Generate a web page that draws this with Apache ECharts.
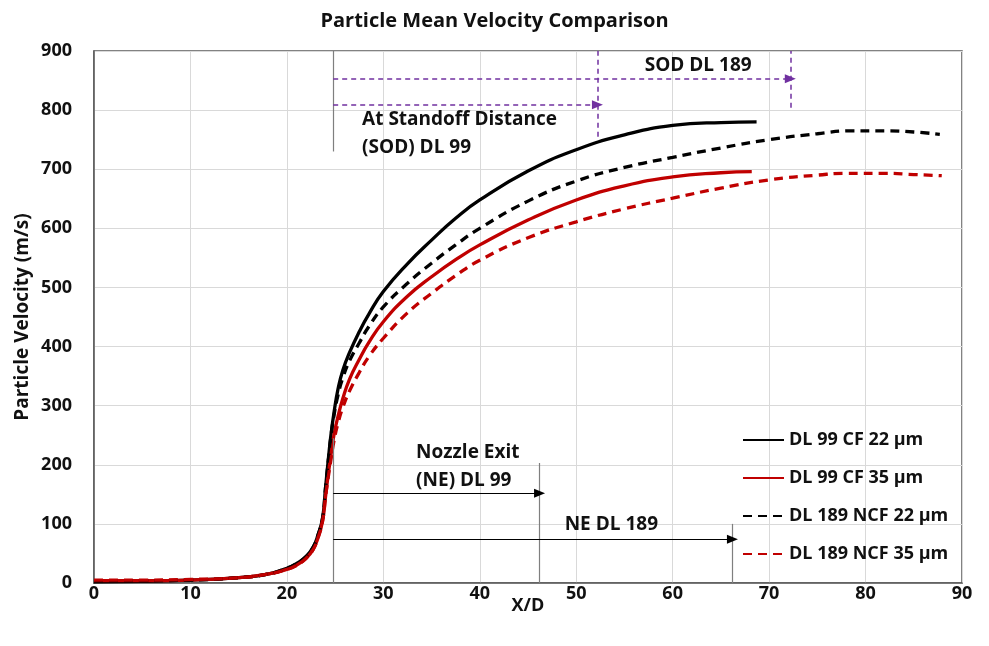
<!DOCTYPE html>
<html>
<head>
<meta charset="utf-8">
<script src="https://cdn.jsdelivr.net/npm/echarts@6/dist/echarts.min.js"></script>
<style>html,body{margin:0;padding:0;background:#fff;}#c{width:989px;height:646px;}</style>
</head>
<body>
<div id="c"></div>
<script>
// ---- Data ----
const titleText = 'Particle Mean Velocity Comparison';
const xTicks = [0, 10, 20, 30, 40, 50, 60, 70, 80, 90];
const yTicks = [0, 100, 200, 300, 400, 500, 600, 700, 800, 900];
const seriesNames = ['DL 99 CF 22 µm', 'DL 99 CF 35 µm', 'DL 189 NCF 22 µm', 'DL 189 NCF 35 µm'];

const xCF22 = [0, 5, 10, 15, 18, 20, 21, 22, 22.7, 23.2, 23.7, 24.0, 24.3, 24.6, 24.9, 25.3, 25.8, 26.5, 27.5, 28.5, 30, 32.5, 35, 37.5, 40, 45, 50, 55, 60, 65, 68.7];
const yCF22 = [2, 3, 5, 9, 15, 25, 33, 45, 60, 80, 110, 160, 210, 255, 290, 328, 360, 390, 425, 455, 493, 540, 580, 617, 648, 697, 733, 758, 774, 779, 780];

const xCF35 = [0, 5, 10, 15, 18, 20, 21, 22, 22.7, 23.2, 23.7, 24.0, 24.3, 24.6, 24.9, 25.3, 25.8, 26.5, 27.5, 28.5, 30, 32.5, 35, 37.5, 40, 45, 50, 55, 60, 65, 68.2];
const yCF35 = [4, 4, 5, 9, 15, 23, 30, 42, 56, 75, 105, 145, 185, 220, 252, 282, 312, 345, 378, 407, 442, 485, 518, 547, 572, 614, 648, 672, 687, 694, 696];

const xNCF22 = [0, 5, 10, 15, 18, 20, 21, 22, 22.7, 23.2, 23.7, 24.0, 24.3, 24.6, 24.9, 25.3, 25.8, 26.5, 27.5, 28.5, 30, 32.5, 35, 37.5, 40, 45, 50, 55, 60, 65, 70, 75, 78.7, 82, 85, 87.7];
const yNCF22 = [4, 4, 5, 9, 15, 25, 33, 45, 60, 80, 110, 160, 208, 252, 285, 318, 347, 376, 406, 434, 467, 507, 541, 572, 600, 646, 680, 703, 720, 736, 750, 760, 765, 765, 763, 759];

const xNCF35 = [0, 5, 10, 15, 18, 20, 21, 22, 22.7, 23.2, 23.7, 24.0, 24.3, 24.6, 24.9, 25.3, 25.8, 26.5, 27.5, 28.5, 30, 32.5, 35, 37.5, 40, 45, 50, 55, 60, 65, 70, 75, 78, 82, 85, 87.9];
const yNCF35 = [5, 5, 6, 9, 15, 23, 30, 42, 56, 75, 105, 145, 180, 212, 242, 270, 297, 325, 356, 383, 414, 457, 490, 520, 546, 584, 611, 633, 651, 668, 682, 690, 693, 693, 691, 689];

// annotation geometry in data units
const greyLines = [[[24.8, 730], [24.8, 900]], [[24.8, 0], [24.8, 245]], [[46.2, 0], [46.2, 203]], [[66.2, 0], [66.2, 100]]];
const blackArrows = [[[24.8, 152], [46.2, 152]], [[24.8, 74], [66.2, 74]]];
const purpleArrows = [[[24.8, 809], [52.2, 809]], [[24.8, 853], [72.2, 853]]];
const purpleLines = [[[52.2, 755], [52.2, 900]], [[72.2, 804], [72.2, 900]]];
const notes = [
  [57.1, 876, 'SOD DL 189'],
  [27.8, 760, 'At Standoff Distance\n(SOD) DL 99'],
  [33.4, 197, 'Nozzle Exit\n(NE) DL 99'],
  [48.8, 98, 'NE DL 189']
];

const FONT = 'Open Sans';
const TXT = '#111111';
const pairs = (xs, ys) => xs.map((x, i) => [x, ys[i]]);

function seg(list, style, arrow) {
  return list.map(p => [
    { coord: p[0], symbol: 'none', lineStyle: style },
    { coord: p[1], symbol: arrow ? 'triangle' : 'none', symbolSize: arrow ? [9, 11] : 0, symbolRotate: arrow ? -90 : 0, lineStyle: style, itemStyle: { color: style.color } }
  ]);
}

const lineSeries = (name, data, color, dashed) => ({
  name, type: 'line', data, showSymbol: false, symbol: 'none',
  smooth: 0.5,
  lineStyle: { color, width: 3.3, type: dashed ? [9, 6] : 'solid' },
  itemStyle: { color },
  z: 3, animation: false
});

const chart = echarts.init(document.getElementById('c'));
chart.setOption({
  backgroundColor: '#fff',
  animation: false,
  title: {
    text: titleText, left: 'center', top: 6,
    textStyle: { fontFamily: FONT, fontSize: 20, fontWeight: 'bold', color: TXT }
  },
  grid: { left: 94, right: 27, top: 51, bottom: 63, show: true, borderColor: '#595959', borderWidth: 1.5 },
  legend: {
    orient: 'vertical', left: 737, top: 426,
    itemWidth: 41, itemHeight: 14, itemGap: 20,
    data: seriesNames,
    itemStyle: { color: 'rgba(0,0,0,0)', borderWidth: 0, opacity: 0 },
    textStyle: { fontFamily: FONT, fontSize: 18, fontWeight: 'bold', color: TXT }
  },
  xAxis: {
    type: 'value', min: 0, max: 90, interval: 10,
    name: 'X/D', nameLocation: 'middle', nameGap: 14, nameMoveOverlap: false,
    nameTextStyle: { fontFamily: FONT, fontSize: 18, fontWeight: 'bold', color: TXT },
    axisLine: { lineStyle: { color: '#595959', width: 1.5 } },
    axisTick: { show: false },
    axisLabel: { fontFamily: FONT, fontSize: 18, fontWeight: 'bold', color: TXT, margin: 2, formatter: v => xTicks.includes(v) ? String(v) : '' },
    splitLine: { lineStyle: { color: '#d9d9d9', width: 1 } }
  },
  yAxis: {
    type: 'value', min: 0, max: 900, interval: 100,
    name: 'Particle Velocity (m/s)', nameLocation: 'middle', nameGap: 62, nameRotate: 90, nameMoveOverlap: false,
    nameTextStyle: { fontFamily: FONT, fontSize: 19, fontWeight: 'bold', color: TXT },
    axisLine: { show: true, lineStyle: { color: '#595959', width: 1.5 } },
    axisTick: { show: false },
    axisLabel: { fontFamily: FONT, fontSize: 18, fontWeight: 'bold', color: TXT, margin: 22, formatter: v => yTicks.includes(v) ? String(v) : '' },
    splitLine: { lineStyle: { color: '#d9d9d9', width: 1 } }
  },
  series: [
    lineSeries(seriesNames[0], pairs(xCF22, yCF22), '#000000', false),
    lineSeries(seriesNames[1], pairs(xCF35, yCF35), '#c00000', false),
    lineSeries(seriesNames[2], pairs(xNCF22, yNCF22), '#000000', true),
    lineSeries(seriesNames[3], pairs(xNCF35, yNCF35), '#c00000', true),
    {
      name: 'annotations', type: 'scatter', data: notes.map(n => [n[0], n[1], n[2]]),
      symbolSize: 0, silent: true, z: 5,
      itemStyle: { opacity: 1 },
      label: {
        show: true, position: 'right', distance: 0, opacity: 1,
        formatter: p => p.data[2],
        fontFamily: FONT, fontSize: 19, fontWeight: 'bold', color: TXT, lineHeight: 28, align: 'left'
      },
      markLine: {
        silent: true, animation: false, symbol: ['none', 'none'],
        label: { show: false },
        emphasis: { disabled: true },
        data: [].concat(
          seg(greyLines, { color: '#7f7f7f', width: 1.2, type: 'solid' }, false),
          seg(blackArrows, { color: '#000000', width: 1.2, type: 'solid' }, true),
          seg(purpleArrows, { color: '#7030a0', width: 1.5, type: [5, 4] }, true),
          seg(purpleLines, { color: '#7030a0', width: 1.5, type: [5, 4] }, false)
        )
      }
    }
  ]
});
</script>
</body>
</html>
